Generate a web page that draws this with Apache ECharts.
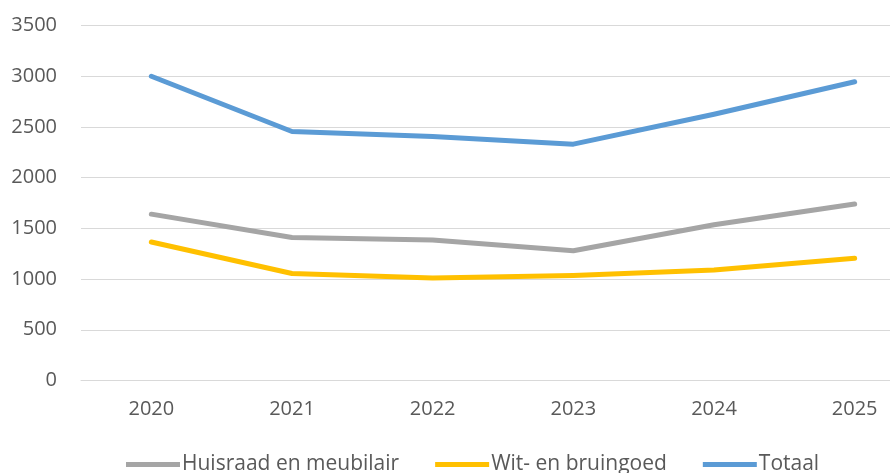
<!DOCTYPE html>
<html><head><meta charset="utf-8">
<script src="https://cdn.jsdelivr.net/npm/echarts@6/dist/echarts.min.js"></script>
<style>html,body{margin:0;padding:0;background:#fff}#c{width:890px;height:473px}</style>
</head><body><div id="c"></div>
<script>
var categories = ['2020','2021','2022','2023','2024','2025'];
var huisraad = [1640, 1410, 1385, 1280, 1535, 1740];
var witBruin = [1365, 1055, 1010, 1035, 1090, 1205];
var totaal = [3000, 2455, 2405, 2330, 2625, 2945];
var seriesNames = ['Huisraad en meubilair', 'Wit- en bruingoed', 'Totaal'];
var colors = ['#A5A5A5', '#FFC000', '#5B9BD5'];
var FONT = 'Open Sans';
var chart = echarts.init(document.getElementById('c'));
function mk(name, data, color) {
  return {name: name, type: 'line', data: data, showSymbol: false, symbol: 'none',
    lineStyle: {width: 5, color: color, cap: 'round', join: 'round'}, itemStyle: {color: color},
    animation: false};
}
chart.setOption({
  animation: false,
  grid: {left: 81, top: 25.5, width: 844, height: 355, outerBoundsMode: 'none', containLabel: false},
  xAxis: {type: 'category', data: categories, boundaryGap: true,
    axisLine: {show: true, lineStyle: {color: '#D9D9D9', width: 1}},
    axisTick: {show: false},
    axisLabel: {color: '#595959', fontFamily: FONT, fontSize: 20, margin: 19}},
  yAxis: {type: 'value', min: 0, max: 3500, interval: 500,
    axisLine: {show: false}, axisTick: {show: false},
    splitLine: {lineStyle: {color: '#D9D9D9', width: 1}},
    axisLabel: {color: '#595959', fontFamily: FONT, fontSize: 20, margin: 24,
      formatter: function (v) { return String(v); }}},
  legend: {left: 126, top: 454, padding: 0, itemWidth: 54, itemHeight: 5, itemGap: 36, icon: 'rect',
    textStyle: {color: '#595959', fontFamily: FONT, fontSize: 21, padding: [0,0,0,-3]},
    data: seriesNames},
  series: [mk(seriesNames[0], huisraad, colors[0]), mk(seriesNames[1], witBruin, colors[1]), mk(seriesNames[2], totaal, colors[2])]
});
</script></body></html>
